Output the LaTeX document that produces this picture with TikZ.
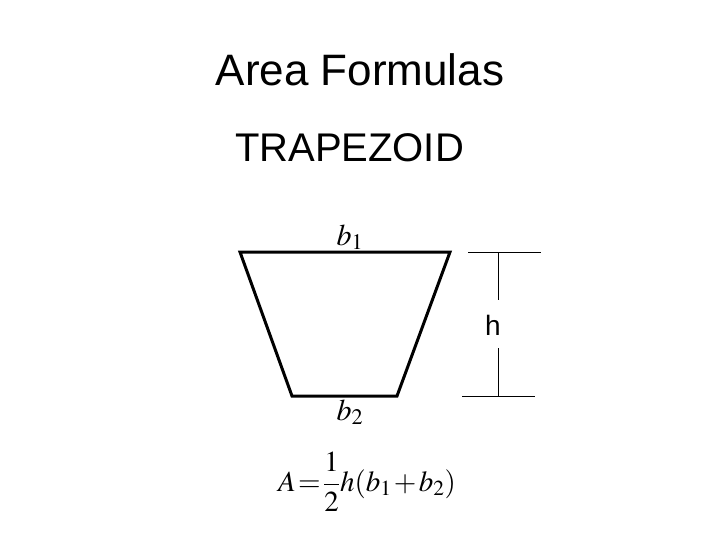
\documentclass[tikz,border=0pt]{standalone}
\usepackage{mathptmx}
\usepackage{fontspec}
\setmainfont{Liberation Sans}
\begin{document}
\begin{tikzpicture}[x=1pt,y=-1pt,
  trapline/.style={line width=3pt,line join=miter},
  dimline/.style={line width=1pt},
  lbl/.style={inner sep=0pt,anchor=center}]
\useasboundingbox (0,0) rectangle (720,540);
\node[lbl] (title) at (360,70) {\fontsize{44}{48}\selectfont Area Formulas};
\node[lbl] (sub) at (349.5,148) {\fontsize{40}{44}\selectfont TRAPEZOID};
\coordinate (tl) at (240,252);
\coordinate (tr) at (450,252);
\coordinate (br) at (397,396);
\coordinate (bl) at (292,396);
\draw[trapline] (tl) -- (tr) -- (br) -- (bl) -- cycle;
\node[lbl] (b1) at (350,237) {\fontsize{30}{32}\selectfont $b_1$};
\node[lbl] (b2) at (350,412) {\fontsize{30}{32}\selectfont $b_2$};
\coordinate (t1) at (468,252);
\coordinate (t2) at (541,252);
\coordinate (m1) at (498,252);
\coordinate (m2) at (498,300);
\coordinate (m3) at (498,348);
\coordinate (m4) at (498,396);
\coordinate (u1) at (462,396);
\coordinate (u2) at (535,396);
\draw[dimline] (t1) -- (t2);
\draw[dimline] (u1) -- (u2);
\draw[dimline] (m1) -- (m2);
\draw[dimline] (m3) -- (m4);
\node[lbl] (h) at (493,325) {\fontsize{28}{30}\selectfont h};
\node[lbl] (formula) at (367,482) {\fontsize{29}{32}\selectfont \thickmuskip=1.5mu \medmuskip=1.5mu $\displaystyle A=\frac{1}{2}h(b_1+b_2)$};
\end{tikzpicture}
\end{document}
